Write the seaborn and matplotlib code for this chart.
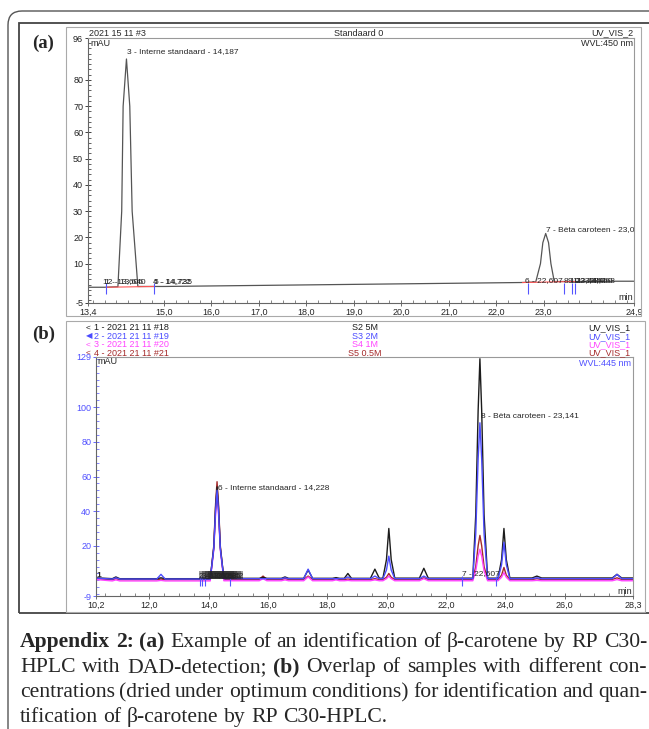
import numpy as np
import pandas as pd
import matplotlib
matplotlib.use("Agg")
import matplotlib.pyplot as plt
import seaborn as sns
from matplotlib.patches import Rectangle, FancyBboxPatch
from matplotlib.ticker import MultipleLocator
from matplotlib.transforms import IdentityTransform

# ---- panel (a): Standaard 0, UV_VIS_2, WVL 450 nm
time_a = [13.4, 13.75, 14.03, 14.11, 14.14, 14.21, 14.28, 14.33, 14.45, 15.0,
          16.0, 17.0, 18.0, 19.0, 20.0, 21.0, 22.0, 22.5, 22.83, 22.93,
          22.98, 23.04, 23.1, 23.15, 23.22, 23.6, 24.0, 24.9]
signal_a = [1.0, 1.0, 1.2, 30.0, 70.0, 88.0, 70.0, 30.0, 1.3, 1.3,
            1.5, 1.7, 1.9, 2.1, 2.3, 2.5, 2.7, 2.8, 3.0, 10.0,
            18.0, 21.5, 18.0, 10.0, 3.2, 3.2, 3.3, 3.3]
xticks_a = [13.4, 15.0, 16.0, 17.0, 18.0, 19.0, 20.0, 21.0, 22.0, 23.0, 24.9]
yticks_a = [-5, 10, 20, 30, 40, 50, 60, 70, 80, 96]
integr_a = [(13.78, 14.79, 1.0, 1.3), (22.55, 23.65, 2.8, 3.2)]
marks_a = [13.78, 14.79, 22.66, 23.42, 23.59, 23.65]

# ---- panel (b): overlap of 4 runs, UV_VIS_1, WVL 445 nm
time_b = [10.2, 10.75, 10.87, 11.0, 12.25, 12.39, 12.53, 13.8, 14.05, 14.17,
          14.23, 14.28, 14.33, 14.39, 14.51, 15.7, 15.83, 15.96, 16.45, 16.57,
          16.69, 17.2, 17.35, 17.5, 18.17, 18.29, 18.41, 18.57, 18.69, 18.81,
          19.45, 19.6, 19.75, 19.87, 19.99, 20.07, 20.15, 20.27, 21.1, 21.25,
          21.4, 22.9, 23.0, 23.08, 23.14, 23.2, 23.28, 23.4, 23.75, 23.87,
          23.95, 24.03, 24.15, 24.9, 25.06, 25.22, 27.6, 27.76, 27.92, 28.3]
s2_5m = [1.5, 1.0, 2.0, 1.0, 1.0, 1.5, 1.0, 1.0, 1.0, 19.0,
         42.0, 54.0, 42.0, 19.0, 1.2, 1.2, 1.8, 1.2, 1.2, 2.0,
         1.2, 1.2, 6.0, 1.2, 1.2, 1.6, 1.2, 1.2, 4.0, 1.2,
         1.2, 6.5, 1.2, 1.3, 12.0, 30.0, 12.0, 1.3, 1.3, 7.0,
         1.3, 1.3, 38.0, 98.0, 128.0, 98.0, 38.0, 1.3, 1.3, 12.0,
         30.0, 12.0, 1.4, 1.4, 2.5, 1.4, 1.4, 3.5, 1.4, 1.4]
s3_2m = [1.3, 0.8, 1.5, 0.8, 0.8, 3.5, 0.8, 0.8, 0.8, 18.5,
         40.0, 52.0, 40.0, 18.5, 1.0, 1.0, 1.0, 1.0, 1.0, 1.5,
         1.0, 1.0, 6.5, 1.0, 1.0, 1.0, 1.0, 1.0, 2.0, 1.0,
         1.0, 2.5, 1.0, 1.0, 6.0, 14.0, 6.0, 1.0, 1.0, 2.5,
         1.0, 1.0, 27.0, 70.0, 91.0, 70.0, 27.0, 1.0, 1.0, 9.0,
         22.0, 9.0, 1.0, 1.0, 1.5, 1.0, 1.0, 3.5, 1.0, 1.0]
s4_1m = [0.5, -0.3, 0.3, -0.3, -0.3, 0.0, -0.3, -0.3, -0.3, 17.5,
         38.0, 50.0, 38.0, 17.5, -0.2, -0.2, 1.0, -0.2, -0.2, 0.3,
         -0.2, -0.2, 2.0, -0.2, -0.2, 0.3, -0.2, -0.2, 0.0, -0.2,
         -0.2, 0.3, -0.2, -0.2, 1.0, 2.5, 1.0, -0.2, -0.2, 1.0,
         -0.2, -0.2, 5.5, 14.0, 18.0, 14.0, 5.5, -0.2, -0.2, 1.8,
         4.5, 1.8, -0.2, -0.2, 0.0, -0.2, -0.2, 0.5, -0.2, -0.2]
s5_05m = [1.0, 0.4, 1.0, 0.4, 0.4, 0.8, 0.4, 0.4, 0.4, 20.0,
          44.0, 57.0, 44.0, 20.0, 0.5, 0.5, 2.5, 0.5, 0.5, 1.0,
          0.5, 0.5, 2.5, 0.5, 0.5, 1.0, 0.5, 0.5, 0.8, 0.5,
          0.5, 1.0, 0.5, 0.5, 1.8, 4.0, 1.8, 0.5, 0.5, 1.5,
          0.5, 0.5, 8.0, 20.0, 26.0, 20.0, 8.0, 0.5, 0.5, 3.0,
          7.5, 3.0, 0.5, 0.5, 1.0, 0.5, 0.5, 1.5, 0.5, 0.5]
runs = ["1 - 2021 21 11 #18", "2 - 2021 21 11 #19", "3 - 2021 21 11 #20", "4 - 2021 21 11 #21"]
run_names = ["S2 5M", "S3 2M", "S4 1M", "S5 0.5M"]
run_colors = ["#1c1c1c", "#4b4bff", "#ff45ff", "#a52a2a"]
run_marks = ["<", "\u25c0", "<", "<"]
draw_order = [3, 2, 0, 1]
xticks_b = [10.2, 12.0, 14.0, 16.0, 18.0, 20.0, 22.0, 24.0, 26.0, 28.3]
yticks_b = [-9, 20, 40, 60, 80, 100, 129]
marks_b = [13.7, 13.78, 13.86, 14.72, 22.54, 23.68]

caption = [
    [("Appendix 2: (a)", True), ("Example of an identification of β-carotene by RP C30-", False)],
    [("HPLC with DAD-detection;", False), ("(b)", True), ("Overlap of samples with different con-", False)],
    [("centrations (dried under optimum conditions) for identification and quan-", False)],
    [("tification of β-carotene by RP C30-HPLC.", False)],
]

sns.set_style("white")
plt.rcParams["font.family"] = ["Liberation Sans", "DejaVu Sans"]

W, H = 649, 729
fig = plt.figure(figsize=(W / 100, H / 100), dpi=100)
px = IdentityTransform()


def pbox(x0, y0, x1, y1):
    return [x0 / W, 1 - y1 / H, (x1 - x0) / W, (y1 - y0) / H]


def ptext(x, y, s, **kw):
    kw.setdefault("fontsize", 6.5)
    return fig.text(x, H - y, s, transform=px, **kw)


# frames
fig.add_artist(FancyBboxPatch((8, -30), 700, H - 11 + 30, boxstyle="round,pad=0,rounding_size=14",
                              transform=px, fill=False, ec="#555555", lw=1.0))
fig.add_artist(Rectangle((19, H - 613), 660, 613 - 23, transform=px, fill=False, ec="#444444", lw=1.3))
fig.add_artist(Rectangle((66, H - 316), 641 - 66, 316 - 27, transform=px, fill=False, ec="#aaaaaa", lw=0.8))
fig.add_artist(Rectangle((66, H - 612), 645 - 66, 612 - 321, transform=px, fill=False, ec="#aaaaaa", lw=0.8))


def style_axes(ax, xt, yt, xminor, yminor, ycol):
    ax.set_xlim(xt[0], xt[-1])
    ax.set_ylim(yt[0], yt[-1])
    ax.set_xticks(xt)
    ax.set_xticklabels([f"{v:.1f}".replace(".", ",") for v in xt])
    ax.set_yticks(yt)
    ax.set_yticklabels([str(v) for v in yt])
    ax.xaxis.set_minor_locator(MultipleLocator(xminor))
    ax.yaxis.set_minor_locator(MultipleLocator(yminor))
    ax.tick_params(which="both", bottom=True, left=True, top=False, right=False)
    ax.tick_params(which="major", direction="inout", length=5, width=0.6, labelsize=6.5, pad=1, color="#555555")
    ax.tick_params(which="minor", direction="in", length=2.5, width=0.5, color="#555555")
    ax.tick_params(axis="y", which="both", labelcolor=ycol, color=ycol)
    ax.set_xlabel("")
    ax.set_ylabel("")
    for side in ["left", "bottom"]:
        ax.spines[side].set_color("#666666")
        ax.spines[side].set_linewidth(0.8)
    for side in ["top", "right"]:
        ax.spines[side].set_color("#999999")
        ax.spines[side].set_linewidth(0.8)


# ---- panel (a)
ax_a = fig.add_axes(pbox(88, 38, 634, 303))
sns.lineplot(x=time_a, y=signal_a, ax=ax_a, color="#555555", linewidth=0.9, sort=False, estimator=None)
for x0, x1, y0, y1 in integr_a:
    ax_a.plot([x0, x1], [y0, y1], color="#ff5555", lw=0.8)
ax_a.vlines(marks_a, -1.5, 2.5, color="#5555ff", lw=0.8)
style_axes(ax_a, xticks_a, yticks_a, 0.25, 2, "#222222")
lab = dict(fontsize=6, va="center", clip_on=True)
ax_a.text(14.22, 90.7, "3 - Interne standaard - 14,187", **lab)
ax_a.text(23.04, 23.0, "7 - Bèta caroteen - 23,021", **lab)
ax_a.text(13.72, 3.3, "12 - 13,640", **lab)
ax_a.text(13.76, 3.3, "1 - 13,606", **lab)
ax_a.text(14.77, 3.3, "4 - 14,722", **lab)
ax_a.text(14.79, 3.3, "5 - 14,735", **lab)
ax_a.text(22.6, 3.5, "6 - 22,607", **lab)
for i, xx in enumerate([23.42, 23.5, 23.56, 23.62]):
    ax_a.text(xx, 3.5, f"{8 + i} - 23,4{44 + 8 * i}", **lab)
ptext(89, 33, "2021 15 11 #3", va="center")
ptext(334, 33, "Standaard 0", va="center")
ptext(633, 33, "UV_VIS_2", va="center", ha="right")
ptext(633, 43, "WVL:450 nm", va="center", ha="right")
ptext(90, 43, "mAU", va="center")
ptext(633, 297, "min", va="center", ha="right")

# ---- panel (b)
df_b = pd.DataFrame({
    "time": time_b * 4,
    "signal": s2_5m + s3_2m + s4_1m + s5_05m,
    "run": np.repeat(runs, len(time_b)),
})
ax_b = fig.add_axes(pbox(96, 357, 633, 596))
sns.lineplot(data=df_b, x="time", y="signal", hue="run", hue_order=[runs[i] for i in draw_order],
             palette=dict(zip(runs, run_colors)), ax=ax_b, linewidth=1.0, sort=False,
             estimator=None, legend=False)
ax_b.vlines(marks_b, -3, 2.5, color="#5555ff", lw=0.8)
style_axes(ax_b, xticks_b, yticks_b, 0.5, 4, "#5050ff")
ax_b.text(14.3, 53.5, "6 - Interne standaard - 14,228", **lab)
ax_b.text(23.16, 95.0, "8 - Bèta caroteen - 23,141", **lab)
ax_b.text(22.54, 4.0, "7 - 22,607", **lab)
ax_b.text(10.22, 3.0, "1", fontsize=6, va="center", fontweight="bold")
for xx, s in zip([13.68, 13.78, 13.9, 14.0], ["2 - 13,606", "3 - 13,752", "4 - 13,885", "5 - 14,042"]):
    ax_b.text(xx, 3.0, s, fontsize=5.5, va="center",
              bbox=dict(boxstyle="square,pad=0.05", fc="#222222", ec="none", alpha=0.45))
for i in range(4):
    y = 328 + 8.4 * i
    ptext(86, y, run_marks[i], va="center", color=run_colors[i], fontsize=6)
    ptext(94, y, runs[i], va="center", color=run_colors[i])
    ptext(365, y, run_names[i], va="center", ha="center", color=run_colors[i])
    ptext(630, y, "UV_VIS_1", va="center", ha="right", color=run_colors[i])
ptext(631, 363, "WVL:445 nm", va="center", ha="right", color="#5050ff")
ptext(97, 362, "mAU", va="center")
ptext(632, 591, "min", va="center", ha="right")

# panel letters
ptext(32, 43, "(a)", va="center", fontsize=13.5, fontweight="bold", family="Liberation Serif")
ptext(32, 334, "(b)", va="center", fontsize=13.5, fontweight="bold", family="Liberation Serif")

# ---- caption, justified
renderer = fig.canvas.get_renderer()


def word_w(w, bold, size):
    t = fig.text(0, 0, w, transform=px, fontsize=size, family="Liberation Serif",
                 fontweight="bold" if bold else "normal")
    wd = t.get_window_extent(renderer).width
    t.remove()
    return wd


def split_words(line):
    out = []
    for seg, bold in line:
        out += [(w, bold) for w in seg.split(" ")]
    return out


first = split_words(caption[0])
ref = sum(word_w(w, b, 10) for w, b in first) + 3.5 * (len(first) - 1)
cap_fs = 10 * 627 / ref
left, right = 20, 647
for k, line in enumerate(caption):
    words = split_words(line)
    widths = [word_w(w, b, cap_fs) for w, b in words]
    if k < len(caption) - 1:
        gap = (right - left - sum(widths)) / (len(words) - 1)
    else:
        gap = cap_fs * 100 / 72 * 0.25
    x = left
    yb = 647 + 25 * k
    for (w, b), wd in zip(words, widths):
        ptext(x, yb, w, va="baseline", fontsize=cap_fs, family="Liberation Serif",
              fontweight="bold" if b else "normal")
        x += wd + gap

fig.savefig("out.png", dpi=100)
